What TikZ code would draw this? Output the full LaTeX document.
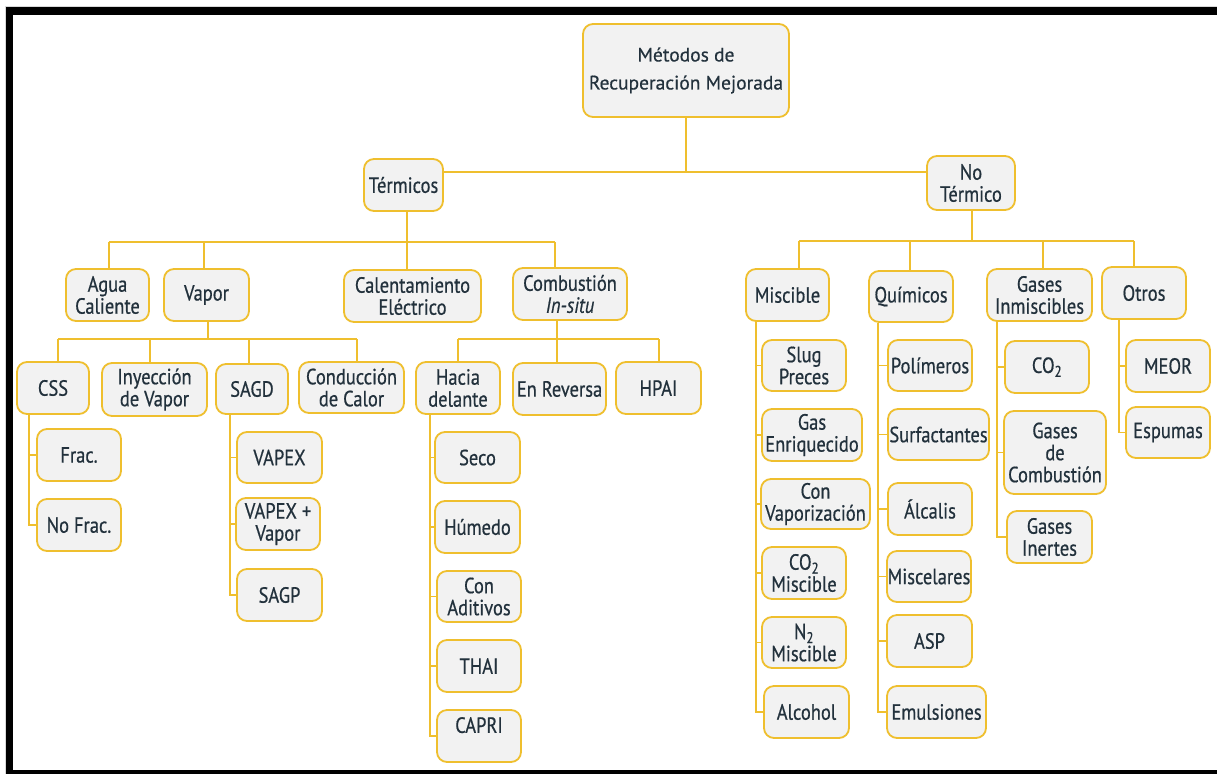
\documentclass[tikz,border=0pt]{standalone}
\usepackage{fontspec}
\setmainfont{PT Sans}[FakeStretch=0.84, FakeBold=0.6]
\newfontfamily\titlefont{PT Sans}[FakeBold=0.5]
\definecolor{gold}{HTML}{EFBF2E}
\definecolor{boxfill}{HTML}{F2F2F2}
\definecolor{ink}{HTML}{22313C}

% box given by its corners (x1,y1)-(x2,y2), in pixel-like units
\newcommand\bx[7][]{%
  \pgfmathsetmacro\bxw{#5-#3}\pgfmathsetmacro\bxh{#6-#4}%
  \pgfmathsetmacro\bxcx{(#3+#5)/2}\pgfmathsetmacro\bxcy{(#4+#6)/2}%
  \node[box, minimum width=\bxw pt, minimum height=\bxh pt, #1] (#2) at (\bxcx,\bxcy) {#7};}

% vertical side line with ticks into each child; last child ends with a corner
\newcommand\sidetree[4]{%
  \coordinate (sx#1) at (#2,0);
  \draw[link] (sx#1 |- #1.south) -- (sx#1 |- #4.west) -- (#4.west);
  \foreach \ch in {#3} {\draw[link] (sx#1 |- \ch.west) -- (\ch.west);}}

\begin{document}
\begin{tikzpicture}[x=1pt,y=-1pt,
  box/.style={draw=gold, line width=1.8pt, fill=boxfill, rounded corners=10pt,
    inner sep=0pt, align=center, text=ink,
    font=\fontsize{22}{22}\selectfont},
  link/.style={draw=gold, line width=1.4pt}]
\useasboundingbox (0,0) rectangle (1217,774);
\fill[white] (0,0) rectangle (1217,774);

% frame
\fill[black!15] (5,6) rectangle (1217,774);
\fill[white] (13,15) rectangle (1217,770);
\fill[black] (6,7) rectangle (1217,15);
\fill[black] (6,7) rectangle (13,774);
\fill[black] (6,770) rectangle (1217,774);

% nodes
\bx[font=\titlefont\fontsize{19.5}{22}\selectfont]{root}{583}{24}{789}{117}{Métodos de\\[6pt]Recuperación Mejorada}
\bx{term}{364}{159}{443}{211}{Térmicos}
\bx{noterm}{927}{156}{1015}{210}{No\\Térmico}

\bx{agua}{66}{269}{149}{321}{Agua\\Caliente}
\bx{vapor}{164}{269}{249}{321}{Vapor}
\bx{calent}{344}{270}{481}{322}{Calentamiento\\Eléctrico}
\bx{comb}{513}{268}{627}{320}{Combustión\\\textit{In-situ}}

\bx{css}{17}{362}{89}{414}{CSS}
\bx{iny}{102}{363}{207}{416}{Inyección\\de Vapor}
\bx{sagd}{216}{364}{288}{414}{SAGD}
\bx{cond}{299}{362}{404}{413}{Conducción\\de Calor}

\bx{frac}{37}{429}{121}{481}{Frac.}
\bx{nofrac}{37}{499}{121}{551}{No Frac.}

\bx{vapex}{237}{432}{322}{483}{VAPEX}
\bx{vapexv}{236}{498}{320}{550}{VAPEX +\\Vapor}
\bx{sagp}{237}{569}{322}{621}{SAGP}

\bx{hacia}{416}{362}{500}{414}{Hacia\\delante}
\bx{enrev}{513}{363}{606}{415}{En Reversa}
\bx{hpai}{616}{362}{701}{414}{HPAI}

\bx{seco}{435}{432}{520}{483}{Seco}
\bx{humedo}{435}{501}{520}{553}{Húmedo}
\bx{conad}{437}{571}{521}{622}{Con\\Aditivos}
\bx{thai}{437}{640}{521}{692}{THAI}
\bx{capri}{437}{710}{521}{762}{CAPRI\\\mbox{}}

\bx{misc}{746}{269}{829}{321}{Miscible}
\bx{quim}{869}{271}{953}{322}{Químicos}
\bx{ginm}{987}{269}{1092}{321}{Gases\\Inmiscibles}
\bx{otros}{1102}{267}{1186}{319}{Otros}

\bx{slug}{762}{340}{846}{391}{Slug\\Preces}
\bx{genr}{762}{409}{862}{461}{Gas\\Enriquecido}
\bx{cvap}{761}{479}{870}{529}{Con\\Vaporización}
\bx{co2m}{762}{547}{846}{599}{CO\textsubscript{2}\\Miscible}
\bx{n2m}{762}{617}{846}{668}{N\textsubscript{2}\\Miscible}
\bx{alco}{764}{686}{849}{738}{Alcohol}

\bx{polim}{888}{340}{972}{391}{Polímeros}
\bx{surf}{888}{409}{989}{460}{Surfactantes}
\bx{alca}{888}{483}{972}{535}{Álcalis}
\bx{miscel}{887}{551}{971}{602}{Miscelares}
\bx{asp}{887}{615}{972}{667}{ASP}
\bx{emul}{887}{686}{986}{738}{Emulsiones}

\bx{co2}{1005}{341}{1089}{393}{CO\textsubscript{2}}
\bx{gcomb}{1004}{411}{1106}{494}{Gases\\de\\Combustión}
\bx{giner}{1007}{511}{1092}{563}{Gases\\Inertes}

\bx{meor}{1126}{340}{1210}{392}{MEOR}
\bx{espu}{1126}{407}{1210}{458}{Espumas}

% root to the two main branches
\coordinate (r0) at (686,172);
\draw[link] (root.south) -- (r0);
\draw[link] (term.east |- r0) -- (noterm.west |- r0);

% thermal branch
\coordinate (tP) at (407,242);
\coordinate (tA) at (109,242);
\coordinate (tB) at (204,242);
\coordinate (tD) at (555,242);
\draw[link] (tP |- term.south) -- (tP);
\draw[link] (tA) -- (tD);
\draw[link] (tA) -- (tA |- agua.north);
\draw[link] (tB) -- (tB |- vapor.north);
\draw[link] (tP) -- (tP |- calent.north);
\draw[link] (tD) -- (tD |- comb.north);

% non-thermal branch
\coordinate (nP) at (972,241);
\coordinate (nA) at (799,241);
\coordinate (nB) at (910,241);
\coordinate (nC) at (1043,241);
\coordinate (nD) at (1134,241);
\draw[link] (nP |- noterm.south) -- (nP);
\draw[link] (nA) -- (nD);
\draw[link] (nA) -- (nA |- misc.north);
\draw[link] (nB) -- (nB |- quim.north);
\draw[link] (nC) -- (nC |- ginm.north);
\draw[link] (nD) -- (nD |- otros.north);

% steam
\coordinate (vP) at (208,339);
\coordinate (vA) at (58,339);
\coordinate (vB) at (150,339);
\coordinate (vC) at (249,339);
\coordinate (vD) at (357,339);
\draw[link] (vP |- vapor.south) -- (vP);
\draw[link] (vA) -- (vD);
\draw[link] (vA) -- (vA |- css.north);
\draw[link] (vB) -- (vB |- iny.north);
\draw[link] (vC) -- (vC |- sagd.north);
\draw[link] (vD) -- (vD |- cond.north);

% in-situ combustion
\coordinate (cP) at (557,339);
\coordinate (cA) at (458,339);
\coordinate (cC) at (659,339);
\draw[link] (cP |- comb.south) -- (cP |- enrev.north);
\draw[link] (cA) -- (cC);
\draw[link] (cA) -- (cA |- hacia.north);
\draw[link] (cC) -- (cC |- hpai.north);

% side lists
\sidetree{css}{29}{frac}{nofrac}
\sidetree{sagd}{230}{vapex,vapexv}{sagp}
\sidetree{hacia}{430}{seco,humedo,conad,thai}{capri}
\sidetree{misc}{756}{slug,genr,cvap,co2m,n2m}{alco}
\sidetree{quim}{878}{polim,surf,alca,miscel,asp}{emul}
\sidetree{ginm}{997}{co2,gcomb}{giner}
\sidetree{otros}{1119}{meor}{espu}
\end{tikzpicture}
\end{document}
